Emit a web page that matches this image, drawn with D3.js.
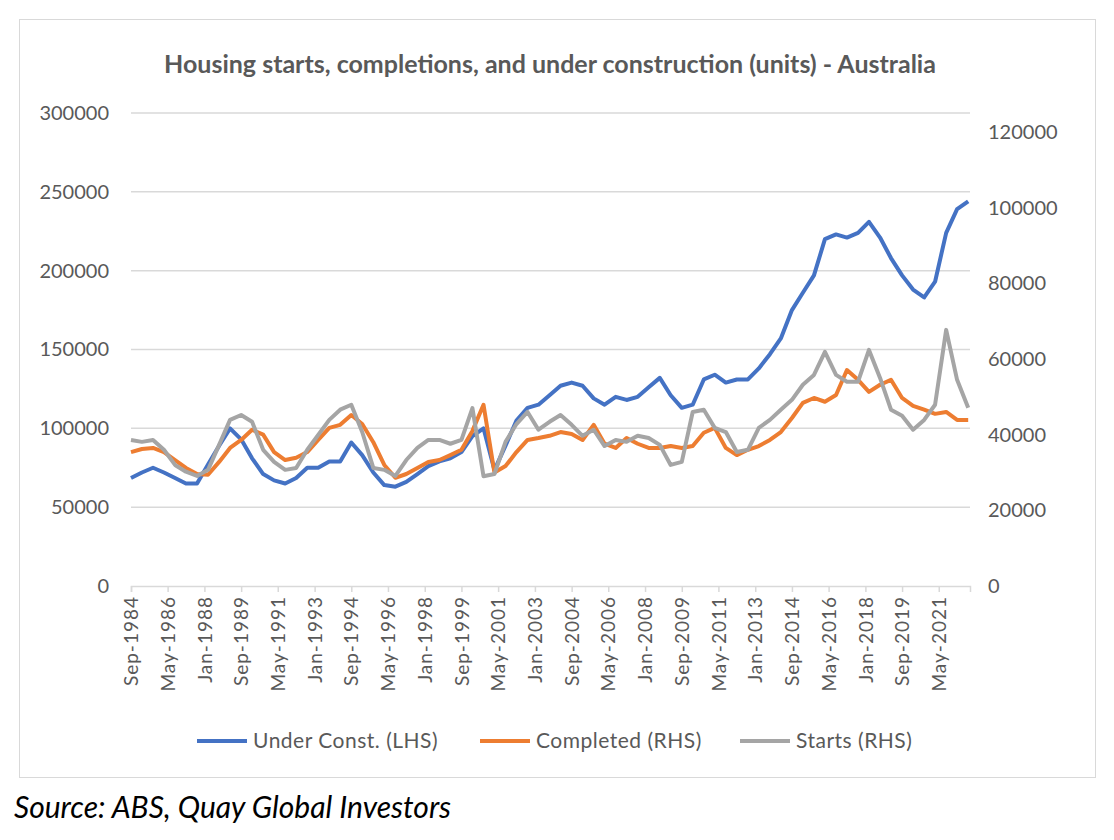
<!DOCTYPE html>
<html>
<head>
<meta charset="utf-8">
<script src="https://cdn.jsdelivr.net/npm/d3@7"></script>
<style>
  body { margin: 0; background: #fff; }
  text { font-family: Lato, "Open Sans", sans-serif; }
</style>
</head>
<body>
<script>
// half-yearly readings, Sep-1984 .. Sep-2022
const underConst = [68.5,72,75,72,68.5,65,65,77,89,100, 93,81,71,67,65,68.5,75,75,79,79,
  91,83,72,64,63,66,71,76,79,81, 85,95,100,73.5,89,105,113,115,121,127,
  129,127,119,115,120,118,120,126,132,121, 113,115,131,134,129,131,131,138,147,157,
  175,186,197,220,223,221,224,231,221,208, 197,188,183,193,224,239,244].map(v => v * 1000);
const completed = [35.4,36.2,36.5,35.4,33.3,31.2,29.6,29.4,32.8,36.5, 38.6,41.3,40,35.4,33.3,33.9,35.4,38.6,41.8,42.6,
  45.2,42.8,38,32,28.6,29.6,31.2,32.8,33.3,34.6, 36,41,47.9,30,31.7,35.4,38.6,39.1,39.7,40.7,
  40.2,38.6,42.6,37.6,36.5,39.1,37.6,36.5,36.5,37, 36.5,37,40.5,41.8,36.5,34.6,36,37,38.6,40.7,
  44.4,48.4,49.7,48.7,50.5,57.1,54.5,51.3,53.2,54.5, 49.7,47.6,46.6,45.5,46,43.9,43.9].map(v => v * 1000);
const starts = [38.6,38.1,38.6,36,32,30.2,29.1,30.7,37.3,43.9, 45.2,43.4,36,32.8,30.7,31.2,36,39.9,43.9,46.6,
  47.9,40.7,31.2,30.7,29.1,33.3,36.5,38.6,38.6,37.6, 38.6,47,29,29.6,38.1,42.8,46,41.3,43.4,45.2,
  42.6,39.7,41.3,37,38.6,38.1,39.7,39.1,37.3,32, 32.8,46,46.6,41.8,40.7,35.4,36,41.8,43.9,46.6,
  49.2,53.2,55.8,61.9,55.8,54,54,62.4,55,46.6, 45,41.3,43.9,47.9,67.7,54.5,47.1].map(v => v * 1000);
const dates = underConst.map((_, i) => new Date(1984, 8 + 6 * i, 1));

const leftTicks = [0, 50000, 100000, 150000, 200000, 250000, 300000];
const rightTicks = [0, 20000, 40000, 60000, 80000, 100000, 120000];
const tickLabels = ["Sep-1984","May-1986","Jan-1988","Sep-1989","May-1991","Jan-1993","Sep-1994",
  "May-1996","Jan-1998","Sep-1999","May-2001","Jan-2003","Sep-2004","May-2006","Jan-2008",
  "Sep-2009","May-2011","Jan-2013","Sep-2014","May-2016","Jan-2018","Sep-2019","May-2021"];
const tickDates = tickLabels.map((_, i) => new Date(1984, 8 + 20 * i, 1));

const series = [
  { name: "Under Const. (LHS)", values: underConst, axis: "left", color: "#4472c4" },
  { name: "Completed (RHS)", values: completed, axis: "right", color: "#ed7d31" },
  { name: "Starts (RHS)", values: starts, axis: "right", color: "#a5a5a5" }
];

const svg = d3.select("body").append("svg").attr("width", 1114).attr("height", 840);

svg.append("rect").attr("x", 19.5).attr("y", 19.5).attr("width", 1076).attr("height", 758)
  .attr("fill", "none").attr("stroke", "#d9d9d9");

const x = d3.scaleTime().domain([new Date(1984, 8, 1), new Date(2022, 9, 1)]).range([131, 970]);
const yL = d3.scaleLinear().domain([0, 300000]).range([586, 113]);
const yR = d3.scaleLinear().domain([0, 120000]).range([586, 132]);

// gridlines
svg.append("g").selectAll("line").data(leftTicks.slice(1)).join("line")
  .attr("x1", 131).attr("x2", 970).attr("y1", d => yL(d)).attr("y2", d => yL(d))
  .attr("stroke", "#d9d9d9").attr("stroke-width", 1.5);

svg.append("g").attr("transform", "translate(131,0)")
  .call(d3.axisLeft(yL).tickValues(leftTicks).tickSize(0).tickPadding(22).tickFormat(d3.format("d")))
  .call(g => g.select(".domain").remove())
  .call(g => g.selectAll("text").attr("fill", "#595959").style("font-size", "20px"));

svg.append("g").attr("transform", "translate(970,0)")
  .call(d3.axisRight(yR).tickValues(rightTicks).tickSize(0).tickPadding(18).tickFormat(d3.format("d")))
  .call(g => g.select(".domain").remove())
  .call(g => g.selectAll("text").attr("fill", "#595959").style("font-size", "20px"));

const xAxis = svg.append("g").attr("transform", "translate(0,586)")
  .call(d3.axisBottom(x).tickValues(tickDates).tickSize(6).tickFormat((d, i) => tickLabels[i]));
xAxis.select(".domain").attr("stroke", "#d9d9d9").attr("stroke-width", 1.5);
xAxis.selectAll("line").attr("stroke", "#d9d9d9").attr("stroke-width", 1.5);
xAxis.selectAll("text").attr("fill", "#595959").style("font-size", "19px").style("letter-spacing", "1px")
  .attr("transform", "rotate(-90)").attr("text-anchor", "end").attr("x", -10).attr("y", 0).attr("dy", "0.35em");

// lines
series.forEach(s => {
  const y = s.axis === "left" ? yL : yR;
  svg.append("path").datum(s.values)
    .attr("fill", "none").attr("stroke", s.color).attr("stroke-width", 4)
    .attr("stroke-linejoin", "round")
    .attr("d", d3.line().x((d, i) => x(dates[i])).y(d => y(d)));
});

svg.append("text").attr("x", 550).attr("y", 73).attr("text-anchor", "middle")
  .attr("fill", "#595959").style("font-size", "25px").style("font-weight", "bold")
  .text("Housing starts, completions, and under construction (units) - Australia");

// legend
const legendX = [197, 480, 740];
series.forEach((s, i) => {
  const g = svg.append("g").attr("transform", `translate(${legendX[i]},741)`);
  g.append("line").attr("x1", 0).attr("x2", 50).attr("stroke", s.color).attr("stroke-width", 4);
  g.append("text").attr("x", 56).attr("dy", "0.35em").attr("fill", "#595959")
    .style("font-size", "21px").style("letter-spacing", "0.5px").text(s.name);
});

svg.append("text").attr("x", 14).attr("y", 818).attr("fill", "#000")
  .style("font-size", "30px").style("font-style", "italic")
  .text("Source: ABS, Quay Global Investors");
</script>
</body>
</html>
